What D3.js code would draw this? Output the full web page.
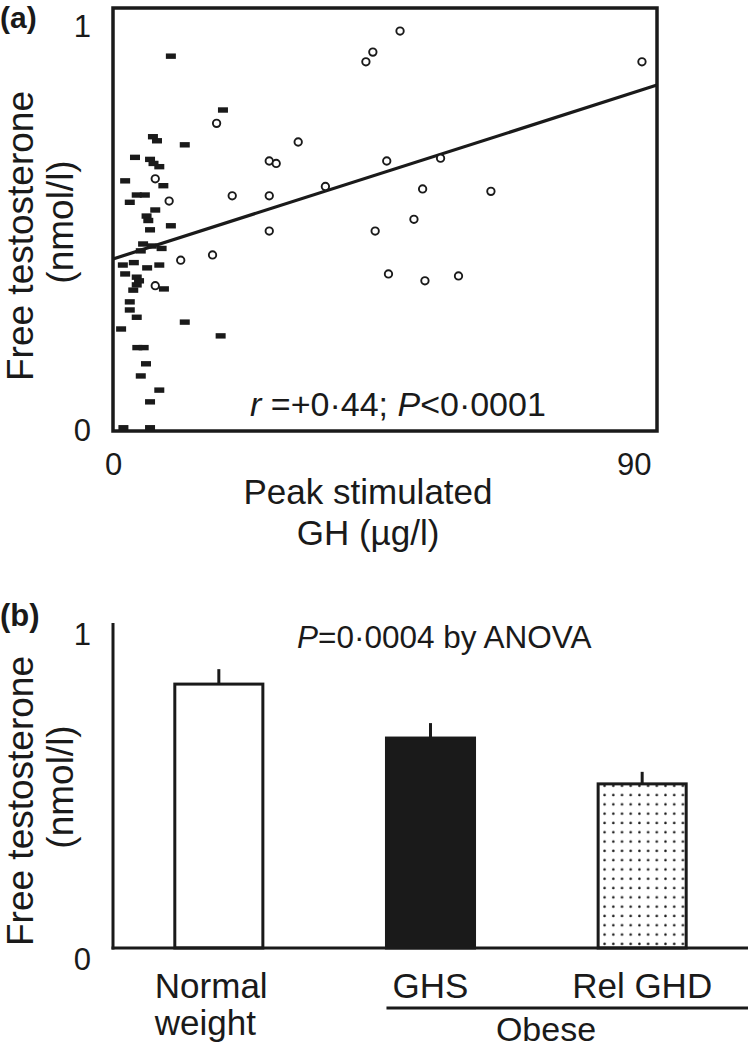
<!DOCTYPE html>
<html><head><meta charset="utf-8">
<script src="https://cdn.jsdelivr.net/npm/d3@7"></script>
<style>
body{margin:0;background:#fff}
svg{display:block}
text{font-family:"Liberation Sans",Arial,Helvetica,sans-serif;fill:#1a1a1a}
</style>
</head><body>
<svg id="c" width="748" height="1050"></svg>
<script>
// ---------- Panel (a) data: [peak GH (µg/l), free testosterone (nmol/l)]
const normalWeightPoints = [
  [49.6,0.988],[44.9,0.936],[43.7,0.912],[91.4,0.912],[17.9,0.760],[32.0,0.714],
  [27.0,0.667],[28.2,0.661],[47.3,0.667],[56.6,0.674],[36.7,0.604],[20.6,0.581],
  [27.0,0.581],[53.5,0.598],[65.3,0.592],[52.0,0.523],[27.0,0.494],[45.3,0.494],
  [17.2,0.435],[11.7,0.422],[47.6,0.388],[53.9,0.371],[59.7,0.383],[7.3,0.623],
  [9.7,0.568],[7.3,0.359]
];
const obesePoints = [
  [10.0,0.926],[19.0,0.793],[6.9,0.727],[7.6,0.717],[12.4,0.707],[3.8,0.676],
  [6.4,0.671],[7.0,0.661],[8.0,0.653],[2.1,0.618],[8.7,0.606],[4.1,0.583],
  [5.5,0.583],[2.9,0.565],[7.3,0.546],[5.8,0.531],[6.1,0.520],[10.0,0.507],
  [6.4,0.497],[5.2,0.462],[6.7,0.457],[4.8,0.445],[8.4,0.451],[1.7,0.410],
  [3.6,0.416],[5.9,0.403],[8.0,0.410],[2.1,0.388],[4.1,0.380],[4.5,0.371],
  [4.1,0.361],[3.5,0.348],[8.8,0.351],[2.9,0.319],[2.9,0.299],[4.1,0.281],
  [1.4,0.252],[12.4,0.269],[18.6,0.235],[4.2,0.206],[5.3,0.206],[5.7,0.166],
  [4.8,0.136],[8.0,0.101],[6.4,0.072],[1.8,0.008],[6.4,0.008]
];
const regressionCoef = [0.425, 0.00457]; // intercept, slope
const scatterXDomain = [0, 94];
const scatterYDomain = [0, 1.045];
const scatterXTicks = [0, 90];
const scatterYTicks = [0, 1];

// ---------- Panel (b) data
const groupNames = ["Normal weight", "GHS", "Rel GHD"];
const groupMeans = [0.812, 0.646, 0.505];
const groupErrors = [0.046, 0.046, 0.037];
const barYTicks = [0, 1];

const svg = d3.select("#c");
const ink = "#1a1a1a";
const font = '"Liberation Sans",Arial,Helvetica,sans-serif';

// ================= Panel (a) =================
const x = d3.scaleLinear().domain(scatterXDomain).range([113, 657]);
const y = d3.scaleLinear().domain(scatterYDomain).range([431, 8]);

svg.append("text").attr("x", 0).attr("y", 28)
  .attr("font-size", 30).attr("font-weight", "bold").text("(a)");

// regression line
const xs = scatterXDomain;
svg.append("line")
  .attr("x1", x(xs[0])).attr("y1", y(regressionCoef[0] + regressionCoef[1]*xs[0]))
  .attr("x2", x(xs[1])).attr("y2", y(regressionCoef[0] + regressionCoef[1]*xs[1]))
  .attr("stroke", ink).attr("stroke-width", 3.2);

// obese points (filled rectangles)
svg.append("g").selectAll("rect").data(obesePoints).join("rect")
  .attr("x", d => x(d[0]) - 5).attr("y", d => y(d[1]) - 2.7)
  .attr("width", 10).attr("height", 5.4).attr("fill", ink);

// normal-weight points (open circles)
svg.append("g").selectAll("circle").data(normalWeightPoints).join("circle")
  .attr("cx", d => x(d[0])).attr("cy", d => y(d[1])).attr("r", 3.7)
  .attr("fill", "#fff").attr("stroke", ink).attr("stroke-width", 1.9);

// frame
svg.append("rect").attr("x", 113).attr("y", 8).attr("width", 544).attr("height", 423)
  .attr("fill", "none").attr("stroke", ink).attr("stroke-width", 3.5);

// axes (labels only)
const xa = svg.append("g").attr("transform", "translate(0,431)")
  .call(d3.axisBottom(x).tickValues(scatterXTicks).tickSize(0).tickPadding(22).tickFormat(d3.format("d")));
const ya = svg.append("g").attr("transform", "translate(113,0)")
  .call(d3.axisLeft(y).tickValues(scatterYTicks).tickSize(0).tickPadding(22).tickFormat(d3.format("d")));
[xa, ya].forEach(g => {
  g.select(".domain").remove();
  g.selectAll("text").attr("font-size", 31).attr("font-family", font).attr("fill", ink);
});

// axis titles
svg.append("text").attr("x", 368).attr("y", 504).attr("text-anchor", "middle")
  .attr("font-size", 35).text("Peak stimulated");
svg.append("text").attr("x", 368).attr("y", 545).attr("text-anchor", "middle")
  .attr("font-size", 35).text("GH (µg/l)");
function yTitle(cy) {
  svg.append("text").attr("transform", `translate(33,${cy}) rotate(-90)`)
    .attr("text-anchor", "middle").attr("font-size", 37).text("Free testosterone");
  svg.append("text").attr("transform", `translate(73,${cy - 14}) rotate(-90)`)
    .attr("text-anchor", "middle").attr("font-size", 37).text("(nmol/l)");
}
yTitle(236);

const stat = svg.append("text").attr("x", 250).attr("y", 416).attr("font-size", 34);
stat.append("tspan").attr("font-style", "italic").text("r");
stat.append("tspan").text(" =+0·44; ");
stat.append("tspan").attr("font-style", "italic").text("P");
stat.append("tspan").text("<0·0001");

// ================= Panel (b) =================
const xb = d3.scaleBand().domain(groupNames).range([113, 748])
  .paddingInner(0.584).paddingOuter(0.292);
const yb = d3.scaleLinear().domain([0, 1]).range([948, 623]);

svg.append("text").attr("x", 0).attr("y", 626)
  .attr("font-size", 31).attr("font-weight", "bold").text("(b)");

const defs = svg.append("defs");
const pat = defs.append("pattern").attr("id", "dots").attr("patternUnits", "userSpaceOnUse")
  .attr("width", 8.7).attr("height", 9.3);
pat.append("rect").attr("width", 8.7).attr("height", 9.3).attr("fill", "#fff");
pat.append("circle").attr("cx", 4.3).attr("cy", 4.6).attr("r", 1.25).attr("fill", "#1a1a1a");

const fills = ["#fff", ink, "url(#dots)"];
svg.append("g").selectAll("rect").data(groupNames).join("rect")
  .attr("x", d => xb(d)).attr("y", (d, i) => yb(groupMeans[i]))
  .attr("width", xb.bandwidth()).attr("height", (d, i) => yb(0) - yb(groupMeans[i]))
  .attr("fill", (d, i) => fills[i]).attr("stroke", ink).attr("stroke-width", 3);

svg.append("g").selectAll("line").data(groupNames).join("line")
  .attr("x1", d => xb(d) + xb.bandwidth()/2).attr("x2", d => xb(d) + xb.bandwidth()/2)
  .attr("y1", (d, i) => yb(groupMeans[i])).attr("y2", (d, i) => yb(groupMeans[i] + groupErrors[i]))
  .attr("stroke", ink).attr("stroke-width", 3);

// axes lines
svg.append("line").attr("x1", 113).attr("x2", 113).attr("y1", yb(1)).attr("y2", yb(0) + 1.5)
  .attr("stroke", ink).attr("stroke-width", 3);
svg.append("line").attr("x1", 111.5).attr("x2", 748).attr("y1", yb(0)).attr("y2", yb(0))
  .attr("stroke", ink).attr("stroke-width", 3);

const yba = svg.append("g").attr("transform", "translate(113,12)")
  .call(d3.axisLeft(yb).tickValues(barYTicks).tickSize(0).tickPadding(22).tickFormat(d3.format("d")));
yba.select(".domain").remove();
yba.selectAll("text").attr("font-size", 31).attr("font-family", font).attr("fill", ink);

yTitle(801);

const anova = svg.append("text").attr("x", 297).attr("y", 648).attr("font-size", 31.5);
anova.append("tspan").attr("font-style", "italic").text("P");
anova.append("tspan").text("=0·0004 by ANOVA");

// category labels
const c0 = xb(groupNames[0]) + xb.bandwidth()/2;
svg.append("text").attr("x", c0 - 64).attr("y", 998).attr("font-size", 35).text("Normal");
svg.append("text").attr("x", c0 - 64).attr("y", 1035).attr("font-size", 35).text("weight");
[1, 2].forEach(i => {
  svg.append("text").attr("x", xb(groupNames[i]) + xb.bandwidth()/2).attr("y", 998)
    .attr("text-anchor", "middle").attr("font-size", 35).text(groupNames[i]);
});
svg.append("line").attr("x1", xb(groupNames[1])).attr("x2", 748).attr("y1", 1008).attr("y2", 1008)
  .attr("stroke", ink).attr("stroke-width", 3);
svg.append("text").attr("x", 546).attr("y", 1041).attr("text-anchor", "middle")
  .attr("font-size", 34).text("Obese");
</script>
</body></html>
